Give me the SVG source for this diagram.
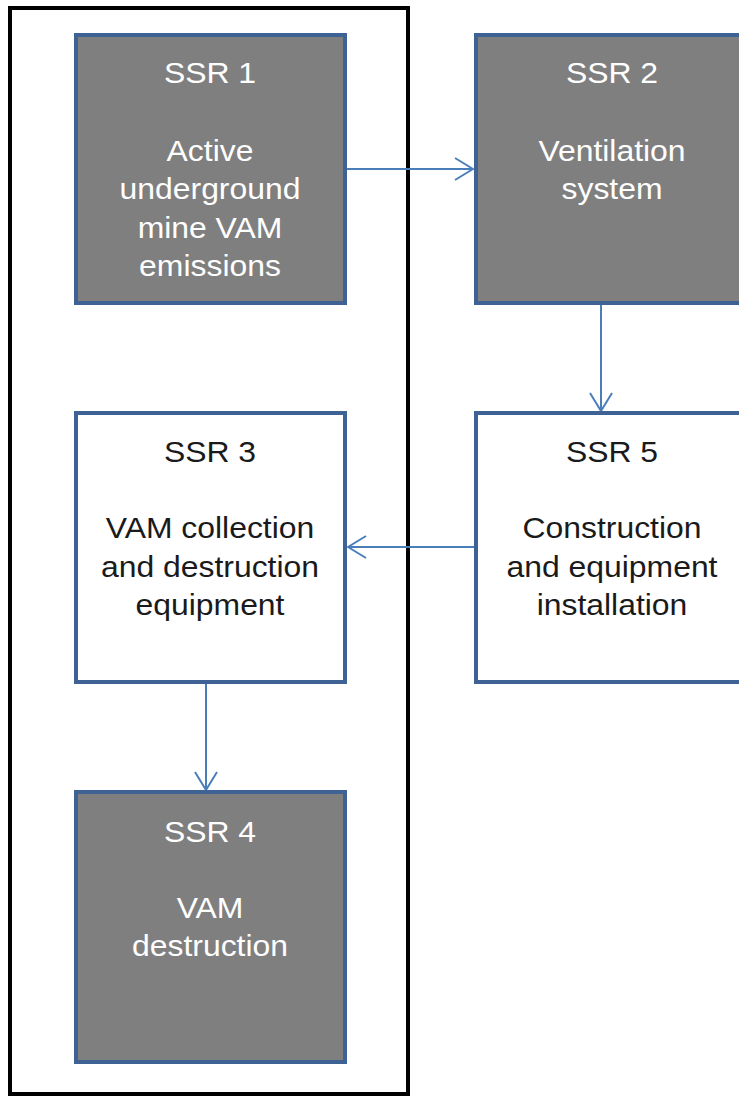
<svg xmlns="http://www.w3.org/2000/svg" width="739" height="1097" viewBox="0 0 739 1097">
<style>
.dark{fill:#7f7f7f;stroke:#3d6293;stroke-width:4}
.light{fill:#ffffff;stroke:#3d6293;stroke-width:4}
text{font-family:"Liberation Sans",Arial,sans-serif;font-size:29px;text-anchor:middle}
.wt{fill:#ffffff}
.bt{fill:#1a1a1a}
.conn{stroke:#4a7ebb;stroke-width:2;fill:none}
.head{stroke:#4a7ebb;stroke-width:2;fill:none}
</style>
<defs>
<marker id="arr" viewBox="0 0 20 24" markerWidth="20" markerHeight="24" refX="19" refY="12" orient="auto" markerUnits="userSpaceOnUse">
<path d="M1,1 L19,12 L1,23" class="head"/>
</marker>
</defs>
<rect x="10" y="8" width="398" height="1086" fill="none" stroke="#000" stroke-width="4"/>
<g id="connectors">
<line class="conn" x1="345" y1="169" x2="473" y2="169" marker-end="url(#arr)"/>
<line class="conn" x1="601" y1="303" x2="601" y2="411" marker-end="url(#arr)"/>
<line class="conn" x1="476" y1="547" x2="348" y2="547" marker-end="url(#arr)"/>
<line class="conn" x1="206" y1="682" x2="206" y2="790" marker-end="url(#arr)"/>
</g>
<g id="ssr1">
<rect class="dark" x="76" y="35" width="269" height="268"/>
<g transform="translate(210,0) scale(1.1,1)" class="wt">
<text x="0" y="83" class="wt">SSR 1</text>
<text x="0" y="161" class="wt">Active</text>
<text x="0" y="199" class="wt">underground</text>
<text x="0" y="238" class="wt">mine VAM</text>
<text x="0" y="276" class="wt">emissions</text>
</g>
</g>
<g id="ssr2">
<rect class="dark" x="476" y="35" width="272" height="268"/>
<g transform="translate(612,0) scale(1.1,1)">
<text x="0" y="83" class="wt">SSR 2</text>
<text x="0" y="161" class="wt">Ventilation</text>
<text x="0" y="199" class="wt">system</text>
</g>
</g>
<g id="ssr5">
<rect class="light" x="476" y="413" width="272" height="269"/>
<g transform="translate(612,0) scale(1.1,1)">
<text x="0" y="462" class="bt">SSR 5</text>
<text x="0" y="538" class="bt">Construction</text>
<text x="0" y="577" class="bt">and equipment</text>
<text x="0" y="615" class="bt">installation</text>
</g>
</g>
<g id="ssr3">
<rect class="light" x="76" y="413" width="269" height="269"/>
<g transform="translate(210,0) scale(1.1,1)">
<text x="0" y="462" class="bt">SSR 3</text>
<text x="0" y="538" class="bt">VAM collection</text>
<text x="0" y="577" class="bt">and destruction</text>
<text x="0" y="615" class="bt">equipment</text>
</g>
</g>
<g id="ssr4">
<rect class="dark" x="76" y="792" width="269" height="270"/>
<g transform="translate(210,0) scale(1.1,1)">
<text x="0" y="842" class="wt">SSR 4</text>
<text x="0" y="918" class="wt">VAM</text>
<text x="0" y="956" class="wt">destruction</text>
</g>
</g>
</svg>
